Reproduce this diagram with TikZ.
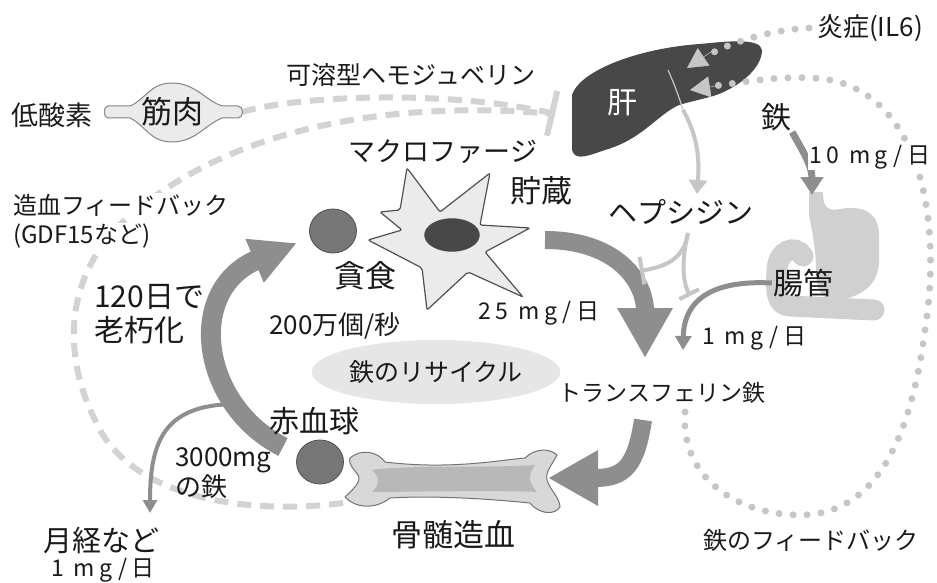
\documentclass[tikz,border=0pt]{standalone}
\usepackage{fontspec}
\setmainfont{Noto Sans CJK JP}
\newfontfamily\ratefont[LetterSpace=20]{Noto Sans CJK JP}
\usepackage{tikz}
\usetikzlibrary{arrows.meta,positioning,calc,shapes.geometric}
\definecolor{cInk}{HTML}{1A1A1A}
\definecolor{cLiver}{HTML}{484848}
\definecolor{cFlow}{HTML}{8E8E8E}
\definecolor{cPale}{HTML}{C6C6C6}
\definecolor{cDash}{HTML}{D3D3D3}
\definecolor{cCell}{HTML}{777777}
\definecolor{cEdge}{HTML}{505050}
\definecolor{cTissue}{HTML}{EBEBEB}
\definecolor{cBone}{HTML}{D8D8D8}
\definecolor{cMarrow}{HTML}{B8B8B8}
\definecolor{cGut}{HTML}{D0D0D0}
\definecolor{cCycle}{HTML}{E6E6E6}
\tikzset{
  lbl/.style={font=\fontsize{#1}{#1}\selectfont,text=cInk,inner sep=1pt},
  lbl/.default=24,
  rate/.style={font=\fontsize{23}{23}\selectfont\ratefont,text=cInk,inner sep=1pt},
  flow/.style={line width=#1,color=cFlow},
  flow/.default=18pt,
  pale/.style={line width=4pt,color=cPale},
  fback/.style={line width=6pt,color=cDash,dash pattern=on 14pt off 9pt},
  dots/.style={line width=7pt,color=cPale,dash pattern=on 0pt off 14pt,line cap=round},
  rbc/.style={ellipse,draw=cEdge,fill=cCell,line width=0.8pt,minimum width=47pt,minimum height=44pt,inner sep=0pt},
}

\begin{document}
\begin{tikzpicture}[x=1pt,y=-1pt,
    bigtip/.style={-{Triangle[length=50pt,width=52pt]}},
    paletip/.style={cPale,line width=0.5pt,-{Triangle[length=20pt,width=21pt]}}]
  \useasboundingbox (0,0) rectangle (937,583);

  \coordinate (muscleR) at (242,112);
  \coordinate (hjvEnd) at (555,114);
  \coordinate (boneL) at (343,503);
  \draw[fback,-{Bar[width=46pt]}] (muscleR) .. controls (300,95) and (450,90) .. (hjvEnd);
  \draw[fback] (boneL) .. controls (250,515) and (130,500) .. (95,420)
    .. controls (60,350) and (62,260) .. (150,200)
    .. controls (250,125) and (400,100) .. (hjvEnd);

  \node[lbl=26,anchor=west] (infl) at (816,28) {炎症(IL6)};
  \coordinate (inflTip) at (687,68);
  \coordinate (ironFbTip) at (690,90);
  \coordinate (tfFb) at (685,412);

  \filldraw[draw=cEdge!70,fill=cTissue,line width=1pt] (108,106) -- (130,106)
    .. controls (145,100) and (150,83) .. (172,83) .. controls (195,83) and (205,100) .. (222,106)
    -- (238,106) .. controls (244,106) and (244,118) .. (238,118) -- (222,118)
    .. controls (205,125) and (195,142) .. (172,142) .. controls (150,142) and (145,125) .. (130,118)
    -- (108,118) .. controls (103,118) and (103,106) .. (108,106) -- cycle;
  \node[lbl=31] (muscle) at (172,112) {筋肉};
  \node[lbl=27] (hypoxia) at (52,115) {低酸素};
  \node[lbl=25] (hjv) at (411,75) {可溶型ヘモジュベリン};

  \fill[cLiver] (572,95) .. controls (580,70) and (640,48) .. (700,44)
    .. controls (730,41) and (760,38) .. (762,50) .. controls (762,70) and (735,90) .. (710,97)
    .. controls (690,102) and (680,104) .. (675,107) .. controls (655,118) and (640,140) .. (605,150)
    .. controls (590,155) and (575,162) .. (572,150) -- cycle;
  \draw[cPale,line width=1.2pt] (668,70) .. controls (676,88) and (680,100) .. (683,110);
  \node[lbl=30,text=white] (liver) at (622,103) {肝};

  \draw[dots] ([xshift=-7pt]infl.west) .. controls (770,30) and (730,42) .. ($(inflTip)+(16,-10)$);
  \draw[dots] (tfFb) .. controls (680,480) and (740,515) .. (800,515)
    .. controls (880,515) and (912,430) .. (925,330)
    .. controls (945,200) and (910,95) .. (830,80)
    .. controls (790,73) and (740,83) .. ($(ironFbTip)+(16,-3)$);
  \draw[paletip] ($(inflTip)+(27,-18)$) -- (inflTip);
  \draw[paletip] ($(ironFbTip)+(32,-5)$) -- (ironFbTip);

  \fill[cGut] (809,192) -- (823,192) .. controls (823,205) and (826,212) .. (840,209)
    .. controls (862,205) and (879,212) .. (879,235) -- (879,262)
    .. controls (878,285) and (862,296) .. (840,300) .. controls (822,302) and (816,290) .. (816,270)
    .. controls (816,250) and (812,230) .. (809,215) -- cycle;
  \draw[cGut,line width=21pt,line cap=round] (874,310) -- (790,306)
    .. controls (776,305) and (776,292) .. (777,270) .. controls (778,250) and (795,244) .. (803,256);

  \filldraw[draw=cEdge,fill=cTissue,line width=1.2pt,rounded corners=2pt]
    (407,168) -- (440,212) -- (490,173) -- (480,225) -- (530,228) -- (485,252) -- (523,297)
    -- (468,272) -- (427,310) -- (422,268) -- (368,240) -- (402,230) -- (380,212) -- (400,210) -- cycle;
  \node[ellipse,draw=cEdge,fill=cLiver,minimum width=55pt,minimum height=33pt,inner sep=0pt] (nucleus) at (452,235) {};
  \node[rbc] (rbcEaten) at (333,231) {};

  \filldraw[draw=cEdge!80,fill=cBone,line width=1pt] (350,458) .. controls (362,448) and (378,452) .. (385,462)
    .. controls (450,470) and (500,460) .. (525,458) .. controls (535,448) and (550,448) .. (557,455)
    .. controls (552,465) and (545,472) .. (547,480) .. controls (550,490) and (560,498) .. (560,507)
    .. controls (555,515) and (540,515) .. (530,503) .. controls (500,500) and (440,495) .. (390,498)
    .. controls (375,510) and (355,508) .. (345,497) .. controls (352,490) and (362,482) .. (358,475)
    .. controls (355,470) and (348,465) .. (350,458) -- cycle;
  \fill[cMarrow] (372,470) .. controls (400,465) and (500,468) .. (535,465)
    .. controls (528,475) and (528,482) .. (537,492) .. controls (500,490) and (400,492) .. (372,492)
    .. controls (380,485) and (380,477) .. (372,470) -- cycle;
  \node[rbc] (rbcNew) at (320,462) {};

  \coordinate (storeOut) at (545,240);
  \coordinate (tfIn) at (645,358);
  \coordinate (tfOut) at (643,420);
  \coordinate (boneIn) at (548,478);
  \coordinate (rbcOut) at (283,447);
  \coordinate (phagoIn) at (297,243);
  \coordinate (mensIn) at (150,513);
  \draw[flow,bigtip] (storeOut) .. controls (615,240) and (645,280) .. (tfIn);
  \draw[flow,bigtip] (tfOut) .. controls (636,465) and (625,478) .. (boneIn);
  \draw[flow=20pt,-{Triangle[length=46pt,width=44pt]}] (rbcOut) .. controls (200,405) and (185,290) .. (phagoIn)
    coordinate[pos=0.25] (loss);
  \draw[flow=4pt,-{Triangle[length=13pt,width=14pt]}] (loss) .. controls (165,405) and (150,440) .. (mensIn);

  \node[lbl=30] (ironIn) at (776,117) {鉄};
  \coordinate (gutTop) at (812,195);
  \draw[flow=7pt,-{Triangle[length=18pt,width=22pt]}] (ironIn.south east) .. controls (802,150) and (812,165) .. (gutTop);
  \node[rate,fill=white,anchor=west] (ironRate) at (808,157) {10 mg/日};
  \node[lbl=30] (gut) at (803,283) {腸管};
  \coordinate (tfIn2) at (683,350);
  \draw[flow=5pt,-{Triangle[length=14pt,width=16pt]}] (gut.west) .. controls (715,280) and (684,298) .. (tfIn2);
  \node[rate,anchor=west] (gutRate) at (701,338) {1 mg/日};

  \coordinate (liverBase) at (683,110);
  \coordinate (hepcIn) at (697,194);
  \coordinate (hepcOut) at (688,233);
  \draw[pale,-{Triangle[length=14pt,width=18pt]}] (liverBase) .. controls (700,140) and (699,165) .. (hepcIn);
  \draw[pale,-{Bar[width=28pt]}] (hepcOut) .. controls (684,258) and (668,266) .. (640,271);
  \draw[pale,-{Bar[width=22pt]}] (hepcOut) .. controls (681,262) and (683,282) .. (690,296);
  \node[lbl=29] (hepc) at (681,212) {ヘプシジン};

  \node[lbl=24,fill=white,anchor=west] (gdfA) at (12,205) {造血フィードバック};
  \node[lbl=24,fill=white,anchor=west] (gdfB) at (12,236) {(GDF15など)};
  \node[lbl=27] (macro) at (443,152) {マクロファージ};
  \node[lbl=31] (store) at (541,191) {貯蔵};
  \node[lbl=31] (phago) at (365,276) {貪食};
  \node[lbl=26] (phagoRate) at (335,326) {200万個/秒};
  \node[rate] (storeRate) at (539,313) {25 mg/日};
  \node[ellipse,fill=cCycle,minimum width=235pt,minimum height=64pt,lbl=25] (cycle) at (436,372) {鉄のリサイクル};
  \node[lbl=23] (tf) at (662,393) {トランスフェリン鉄};
  \node[lbl=30,anchor=west] (ageA) at (93,297) {120日で};
  \node[lbl=30,anchor=west] (ageB) at (93,330) {老朽化};
  \node[lbl=30] (rbcLbl) at (314,421) {赤血球};
  \node[lbl=26,anchor=west] (poolA) at (174,460) {3000mg};
  \node[lbl=26,anchor=west] (poolB) at (174,487) {の鉄};
  \node[lbl=31] (marrow) at (453,535) {骨髄造血};
  \node[lbl=29] (mens) at (101,541) {月経など};
  \node[rate] (mensRate) at (103,570) {1 mg/日};
  \node[lbl=24] (ironFb) at (811,540) {鉄のフィードバック};
\end{tikzpicture}
\end{document}
